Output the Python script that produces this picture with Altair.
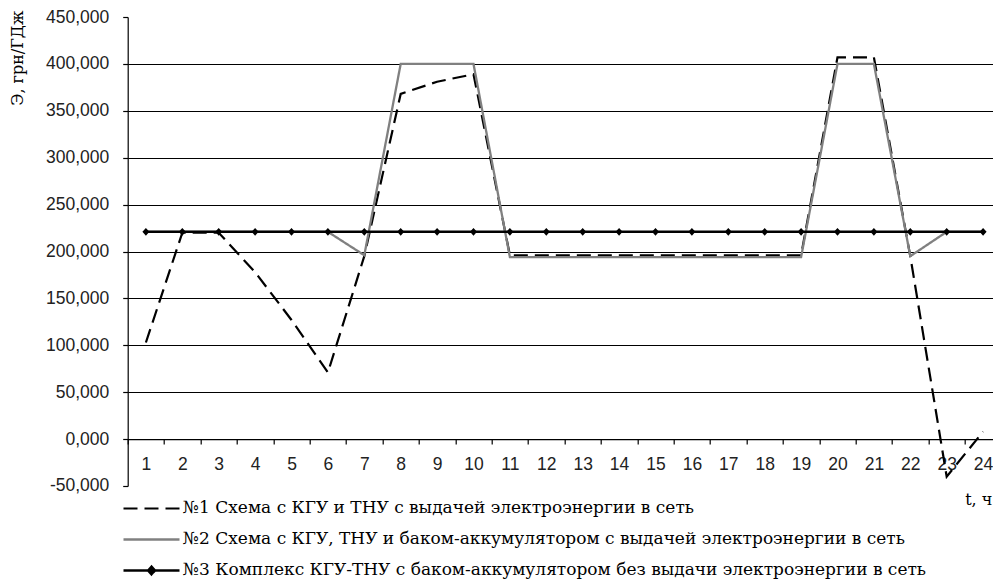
import altair as alt
import pandas as pd

hours = list(range(1, 25))

names = [
    "№1 Схема с КГУ и ТНУ с выдачей электроэнергии в сеть",
    "№2 Схема с КГУ, ТНУ и баком-аккумулятором с выдачей электроэнергии в сеть",
    "№3 Комплекс КГУ-ТНУ с баком-аккумулятором без выдачи электроэнергии в сеть",
]

s1 = [103000, 220000, 220000, 178000, 127000, 71000, 195000, 368000, 381000, 389000,
      196000, 196000, 196000, 196000, 196000, 196000, 196000, 196000, 196000,
      407000, 407000, 195000, -40000, 8000]
s2 = [221000, 221000, 221000, 221000, 221000, 221000, 196000, 400000, 400000, 400000,
      194000, 194000, 194000, 194000, 194000, 194000, 194000, 194000, 194000,
      400000, 400000, 195000, 221000, 221000]
s3 = [221000] * 24

y_ticks = list(range(-50000, 450001, 50000))

rows = []
for name, vals in zip(names, [s1, s2, s3]):
    for t, v in zip(hours, vals):
        rows.append({"t": t, "value": v, "series": name})
df = pd.DataFrame(rows)

sans = "Liberation Sans"
serif = "DejaVu Serif"

line_path = "M-4,0L4,0"
diamond_path = "M-4,0L4,0M0,-0.55L0.5,0L0,0.55L-0.5,0Z"

x_enc = alt.X(
    "t:O",
    scale=alt.Scale(type="band", paddingInner=0, paddingOuter=0, range=[0, 873.6]),
    bandPosition=0.5,
    axis=alt.Axis(
        tickBand="extent", offset=-46.9, orient="bottom",
        labelAngle=0, labelFont=sans, labelFontSize=17.5, labelColor="#222",
        labelPadding=11, tickSize=5, tickColor="#000", domainColor="#000",
        domainWidth=1.2, tickWidth=1.2, grid=False,
        title="t, ч", titleFont=serif, titleFontSize=16, titleFontWeight="normal",
        titleColor="#000", titleX=837, titleY=60, titleAlign="left",
        titleBaseline="middle", titleAnchor="start",
    ),
)
y_enc = alt.Y(
    "value:Q",
    scale=alt.Scale(domain=[-50000, 450000], nice=False, zero=False),
    axis=alt.Axis(
        values=y_ticks,
        labelExpr="replace(datum.value == 0 ? '0,000' : format(datum.value, ','), '\u2212', '-')",
        labelFont=sans, labelFontSize=17.5, labelColor="#222", labelPadding=14,
        tickSize=5, tickColor="#000", domainColor="#000", domainWidth=1.2, tickWidth=1.2,
        grid=True, gridColor="#000", gridWidth=1.2,
        gridOpacity=alt.condition("datum.value >= 450000 || datum.value <= -50000", alt.value(0), alt.value(1)),
        title="Э, грн/ГДж", titleFont=serif, titleFontSize=16, titleFontWeight="normal",
        titleColor="#000", titleAngle=270, titleX=-110, titleY=-7,
        titleAlign="right", titleBaseline="middle",
    ),
)

legend = alt.Legend(
    title=None, orient="none", legendX=15.3, legendY=483, direction="vertical",
    labelFont=serif, labelFontSize=17, labelColor="#000", labelLimit=900,
    symbolSize=196, labelOffset=23, rowPadding=13, padding=0,
)

base = alt.Chart(df).encode(x=x_enc, y=y_enc)

color_scale = alt.Scale(domain=names, range=["#000000", "#808080", "#000000"])

lines = base.mark_line().encode(
    color=alt.Color("series:N", scale=color_scale, legend=legend),
    strokeDash=alt.StrokeDash("series:N", scale=alt.Scale(domain=names, range=[[14, 7], [1, 0], [1, 0]]), legend=legend),
    strokeWidth=alt.StrokeWidth("series:N", scale=alt.Scale(domain=names, range=[2.2, 2.4, 2.8]), legend=legend),
)

points = base.transform_filter(alt.datum.series == names[2]).mark_point(filled=True, size=196, opacity=1).encode(
    color=alt.Color("series:N", scale=color_scale, legend=legend),
    shape=alt.Shape("series:N", scale=alt.Scale(domain=names, range=[line_path, line_path, diamond_path]), legend=legend),
)

chart = alt.layer(lines, points).properties(
    width=865, height=469,
    autosize=alt.AutoSizeParams(type="none"),
    padding={"left": 119.7, "top": 9, "right": 0, "bottom": 94},
    background="white",
).configure_view(strokeWidth=0)

chart.save("out.html", embed_options={"renderer": "svg", "actions": False})
